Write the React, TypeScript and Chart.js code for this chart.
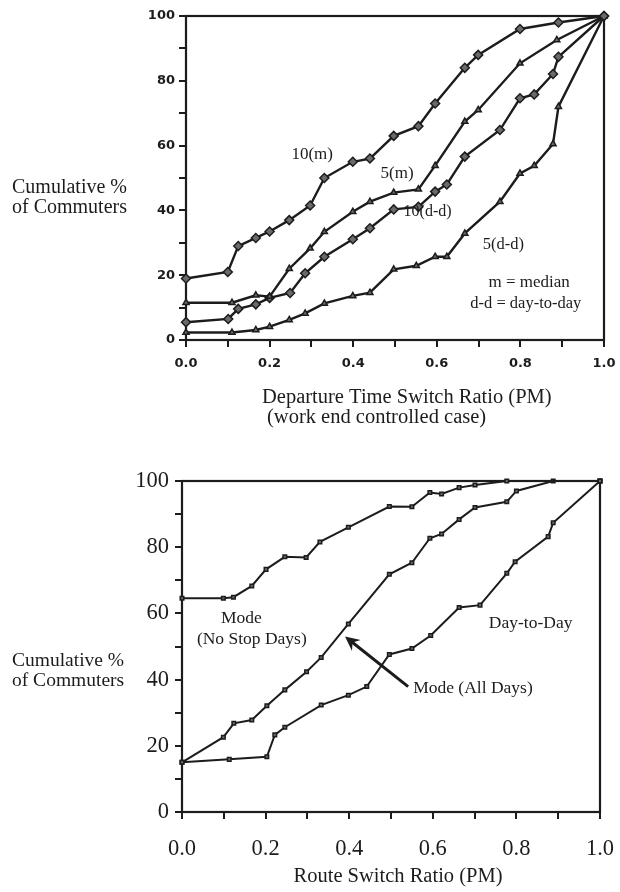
import React, { useEffect, useRef } from 'react';
import { Chart, registerables } from 'chart.js';
Chart.register(...registerables);

// ---------- Top chart: Departure Time Switch Ratio (PM) ----------
const m10X = [0, 0.10, 0.125, 0.167, 0.20, 0.247, 0.297, 0.331, 0.399, 0.44, 0.497, 0.556, 0.596, 0.667, 0.699, 0.799, 0.891, 1.0];
const m10Y = [19, 21, 29, 31.5, 33.5, 37, 41.5, 50, 55, 56, 63, 66, 73, 84, 88, 96, 98, 100];

const m5X = [0, 0.11, 0.167, 0.20, 0.247, 0.297, 0.331, 0.399, 0.44, 0.497, 0.556, 0.596, 0.667, 0.699, 0.799, 0.887, 1.0];
const m5Y = [11.5, 11.5, 13.8, 13.4, 22, 28.3, 33.4, 39.6, 42.7, 45.5, 46.5, 53.8, 67.4, 71, 85.4, 92.6, 100];

const dd10X = [0, 0.101, 0.125, 0.167, 0.20, 0.249, 0.285, 0.331, 0.399, 0.44, 0.497, 0.556, 0.596, 0.624, 0.667, 0.751, 0.799, 0.833, 0.878, 0.891, 1.0];
const dd10Y = [5.5, 6.5, 9.6, 11, 13, 14.5, 20.6, 25.7, 31.1, 34.5, 40.3, 41.1, 45.8, 48, 56.6, 64.8, 74.6, 75.8, 82.1, 87.4, 100];

const dd5X = [0, 0.11, 0.167, 0.20, 0.247, 0.285, 0.331, 0.399, 0.44, 0.497, 0.551, 0.596, 0.624, 0.667, 0.751, 0.799, 0.833, 0.878, 0.891, 1.0];
const dd5Y = [2.3, 2.3, 3.1, 4.1, 6.2, 8.2, 11.3, 13.6, 14.6, 21.8, 22.9, 25.7, 25.7, 32.9, 42.7, 51.4, 53.8, 60.5, 72, 100];

// ---------- Bottom chart: Route Switch Ratio (PM) ----------
const noStopX = [0, 0.099, 0.123, 0.167, 0.201, 0.246, 0.297, 0.330, 0.398, 0.496, 0.55, 0.593, 0.621, 0.663, 0.701, 0.777, 1.0];
const noStopY = [64.6, 64.6, 64.9, 68.3, 73.3, 77.1, 76.9, 81.6, 86, 92.3, 92.2, 96.5, 96.1, 98, 98.8, 100, 100];

const allDaysX = [0, 0.099, 0.124, 0.167, 0.203, 0.246, 0.298, 0.333, 0.398, 0.496, 0.55, 0.593, 0.621, 0.663, 0.701, 0.777, 0.8, 0.888, 1.0];
const allDaysY = [15, 22.6, 26.8, 27.8, 32.1, 36.9, 42.4, 46.7, 56.8, 71.8, 75.3, 82.7, 84, 88.4, 92, 93.7, 97, 100, 100];

const dayX = [0, 0.113, 0.203, 0.222, 0.246, 0.333, 0.398, 0.442, 0.496, 0.55, 0.595, 0.663, 0.713, 0.777, 0.797, 0.876, 0.888, 1.0];
const dayY = [15, 15.9, 16.7, 23.3, 25.6, 32.3, 35.3, 37.9, 47.6, 49.4, 53.3, 61.8, 62.5, 72.1, 75.6, 83.2, 87.4, 100];

const INK = '#1c1c1c';
const SERIF = '"Liberation Serif", "Times New Roman", serif';

type DataLabel = { text: string; x: number; y: number; size: number; align?: CanvasTextAlign };
type PixLabel = { text: string; px: number; py: number; size: number; align?: CanvasTextAlign };
type Arrow = { fromX: number; fromY: number; toX: number; toY: number };

const topLabels: DataLabel[] = [
  { text: '10(m)', x: 0.302, y: 57.1, size: 17 },
  { text: '5(m)', x: 0.505, y: 51.5, size: 17 },
  { text: '10(d-d)', x: 0.578, y: 39.6, size: 16 },
  { text: '5(d-d)', x: 0.759, y: 29.3, size: 16.5 },
  { text: 'm = median', x: 0.821, y: 17.6, size: 17 },
  { text: 'd-d = day-to-day', x: 0.813, y: 11.1, size: 16.5 },
];
const topTitles: PixLabel[] = [
  { text: 'Cumulative %', px: 12, py: 188, size: 20, align: 'left' },
  { text: 'of Commuters', px: 12, py: 208, size: 20, align: 'left' },
  { text: 'Departure Time Switch Ratio (PM)', px: 262, py: 398, size: 20.5, align: 'left' },
  { text: '(work end controlled case)', px: 267, py: 418, size: 20.5, align: 'left' },
];
const bottomLabels: DataLabel[] = [
  { text: 'Mode', x: 0.142, y: 58.5, size: 17.5 },
  { text: '(No Stop Days)', x: 0.167, y: 52.2, size: 17.5 },
  { text: 'Day-to-Day', x: 0.834, y: 57, size: 17.5 },
  { text: 'Mode (All Days)', x: 0.553, y: 37.2, size: 17.5, align: 'left' },
];
const bottomTitles: PixLabel[] = [
  { text: 'Cumulative %', px: 12, py: 211, size: 19.5, align: 'left' },
  { text: 'of Commuters', px: 12, py: 231, size: 19.5, align: 'left' },
  { text: 'Route Switch Ratio (PM)', px: 398, py: 427, size: 20.5, align: 'center' },
];
const bottomArrow: Arrow = { fromX: 0.541, fromY: 37.9, toX: 0.39, toY: 53 };

function toPts(xs: number[], ys: number[]) {
  return xs.map((x, i) => ({ x, y: ys[i] }));
}

function makePlugin(id: string, labels: DataLabel[], titles: PixLabel[], arrow?: Arrow) {
  return {
    id,
    beforeDatasetsDraw(chart: any) {
      const { ctx, chartArea } = chart;
      ctx.save();
      ctx.strokeStyle = INK;
      ctx.lineWidth = 2.2;
      ctx.strokeRect(chartArea.left, chartArea.top, chartArea.right - chartArea.left, chartArea.bottom - chartArea.top);
      ctx.restore();
    },
    afterDraw(chart: any) {
      const { ctx, scales } = chart;
      const xs = scales.x, ys = scales.y;
      ctx.save();
      ctx.fillStyle = INK;
      ctx.textBaseline = 'middle';
      for (const l of labels) {
        ctx.font = `${l.size}px ${SERIF}`;
        ctx.textAlign = l.align ?? 'center';
        ctx.fillText(l.text, xs.getPixelForValue(l.x), ys.getPixelForValue(l.y));
      }
      for (const t of titles) {
        ctx.font = `${t.size}px ${SERIF}`;
        ctx.textAlign = t.align ?? 'center';
        ctx.fillText(t.text, t.px, t.py);
      }
      if (arrow) {
        const x0 = xs.getPixelForValue(arrow.fromX), y0 = ys.getPixelForValue(arrow.fromY);
        const x1 = xs.getPixelForValue(arrow.toX), y1 = ys.getPixelForValue(arrow.toY);
        const ang = Math.atan2(y1 - y0, x1 - x0);
        const head = 16;
        ctx.strokeStyle = INK;
        ctx.lineWidth = 3;
        ctx.beginPath();
        ctx.moveTo(x0, y0);
        ctx.lineTo(x1 - Math.cos(ang) * 8, y1 - Math.sin(ang) * 8);
        ctx.stroke();
        ctx.beginPath();
        ctx.moveTo(x1, y1);
        ctx.lineTo(x1 - head * Math.cos(ang - 0.45), y1 - head * Math.sin(ang - 0.45));
        ctx.lineTo(x1 - head * 0.6 * Math.cos(ang), y1 - head * 0.6 * Math.sin(ang));
        ctx.lineTo(x1 - head * Math.cos(ang + 0.45), y1 - head * Math.sin(ang + 0.45));
        ctx.closePath();
        ctx.fill();
      }
      ctx.restore();
    },
  };
}

function lineDs(label: string, xs: number[], ys: number[], style: string, radius: number, width: number) {
  return {
    label,
    data: toPts(xs, ys),
    borderColor: INK,
    borderWidth: width,
    pointStyle: style,
    pointRadius: radius,
    pointBackgroundColor: '#6a6a6a',
    pointBorderColor: INK,
    pointBorderWidth: 1.5,
    tension: 0,
    clip: false,
  };
}

function axes(opts: {
  yWidth: number; xHeight: number; tickFont: any; xPad: number; yPad: number; tickLen: number;
}) {
  return {
    x: {
      type: 'linear',
      min: 0,
      max: 1,
      afterFit: (s: any) => {
        s.height = opts.xHeight;
        s.paddingLeft = 0;
        s.paddingRight = 0;
      },
      ticks: {
        stepSize: 0.1,
        autoSkip: false,
        maxRotation: 0,
        color: INK,
        font: opts.tickFont,
        padding: opts.xPad,
        callback: (v: number) => (Math.round(v * 10) % 2 === 0 ? v.toFixed(1) : ''),
      },
      grid: { drawOnChartArea: false, drawTicks: true, tickLength: opts.tickLen, color: INK, lineWidth: 2 },
      border: { display: false },
    },
    y: {
      type: 'linear',
      min: 0,
      max: 100,
      afterFit: (s: any) => {
        s.width = opts.yWidth;
        s.paddingTop = 0;
        s.paddingBottom = 0;
      },
      ticks: {
        stepSize: 10,
        autoSkip: false,
        color: INK,
        font: opts.tickFont,
        padding: opts.yPad,
        callback: (v: number) => (Math.round(v) % 20 === 0 ? String(Math.round(v)) : ''),
      },
      grid: { drawOnChartArea: false, drawTicks: true, tickLength: opts.tickLen, color: INK, lineWidth: 2 },
      border: { display: false },
    },
  };
}

export default function App() {
  const topRef = useRef<HTMLCanvasElement>(null);
  const botRef = useRef<HTMLCanvasElement>(null);

  useEffect(() => {
    const top = new Chart(topRef.current as HTMLCanvasElement, {
      type: 'line',
      data: {
        datasets: [
          lineDs('10(m)', m10X, m10Y, 'rectRot', 4.5, 2.4),
          lineDs('5(m)', m5X, m5Y, 'triangle', 3.5, 2.4),
          lineDs('10(d-d)', dd10X, dd10Y, 'rectRot', 4.5, 2.4),
          lineDs('5(d-d)', dd5X, dd5Y, 'triangle', 3.5, 2.4),
        ] as any,
      },
      options: {
        responsive: false,
        animation: false,
        events: [],
        layout: { padding: { left: 0, right: 16, top: 16, bottom: 0 } },
        plugins: { legend: { display: false }, tooltip: { enabled: false } },
        scales: axes({
          yWidth: 186, xHeight: 110, tickLen: 7, xPad: 9, yPad: 4,
          tickFont: { family: '"DejaVu Sans", sans-serif', weight: 'bold', size: 13 },
        }) as any,
      },
      plugins: [makePlugin('topAnno', topLabels, topTitles)],
    });

    const bot = new Chart(botRef.current as HTMLCanvasElement, {
      type: 'line',
      data: {
        datasets: [
          lineDs('Mode (No Stop Days)', noStopX, noStopY, 'rect', 2.5, 2),
          lineDs('Mode (All Days)', allDaysX, allDaysY, 'rect', 2.5, 2),
          lineDs('Day-to-Day', dayX, dayY, 'rect', 2.5, 2),
        ] as any,
      },
      options: {
        responsive: false,
        animation: false,
        events: [],
        layout: { padding: { left: 0, right: 20, top: 31, bottom: 0 } },
        plugins: { legend: { display: false }, tooltip: { enabled: false } },
        scales: axes({
          yWidth: 182, xHeight: 80, tickLen: 7, xPad: 17, yPad: 6,
          tickFont: { family: SERIF, size: 22.5 },
        }) as any,
      },
      plugins: [makePlugin('botAnno', bottomLabels, bottomTitles, bottomArrow)],
    });

    return () => {
      top.destroy();
      bot.destroy();
    };
  }, []);

  return (
    <div style={{ position: 'absolute', left: 0, top: 0, width: 620, height: 892, background: '#fff' }}>
      <canvas ref={topRef} width={620} height={450} style={{ position: 'absolute', left: 0, top: 0 }} />
      <canvas ref={botRef} width={620} height={442} style={{ position: 'absolute', left: 0, top: 450 }} />
    </div>
  );
}
